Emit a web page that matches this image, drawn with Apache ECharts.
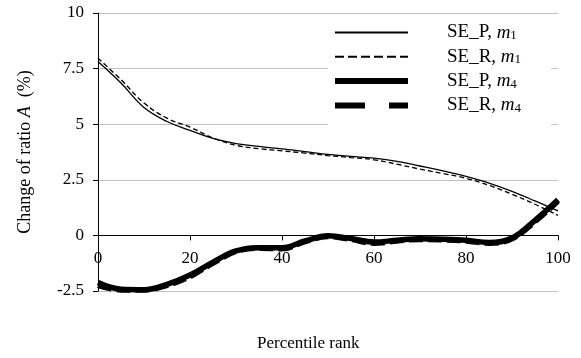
<!DOCTYPE html>
<html>
<head>
<meta charset="utf-8">
<script src="https://cdn.jsdelivr.net/npm/echarts@6/dist/echarts.min.js"></script>
<style>
  html, body { margin: 0; padding: 0; background: #fff; }
  #chart { width: 581px; height: 358px; }
</style>
</head>
<body>
<div id="chart"></div>
<script>
const percentiles = [0, 5, 10, 15, 20, 25, 30, 35, 40, 45, 50, 55, 60, 65, 70, 75, 80, 85, 90, 95, 100]

const seP_m1 = [7.82, 6.85, 5.75, 5.12, 4.72, 4.36, 4.13, 4.0, 3.89, 3.77, 3.64, 3.55, 3.47, 3.33, 3.12, 2.9, 2.65, 2.35, 1.98, 1.55, 1.1]
const seR_m1 = [7.97, 7.0, 5.95, 5.27, 4.87, 4.38, 4.05, 3.9, 3.8, 3.7, 3.59, 3.5, 3.4, 3.2, 2.98, 2.78, 2.57, 2.25, 1.85, 1.4, 0.9]
const seP_m4 = [-2.12, -2.42, -2.44, -2.2, -1.78, -1.2, -0.7, -0.55, -0.55, -0.25, -0.02, -0.14, -0.3, -0.22, -0.15, -0.17, -0.22, -0.32, -0.12, 0.68, 1.6]
const seR_m4 = [-2.25, -2.45, -2.45, -2.25, -1.85, -1.25, -0.72, -0.58, -0.6, -0.28, -0.05, -0.18, -0.35, -0.25, -0.18, -0.2, -0.25, -0.35, -0.15, 0.62, 1.55]

const seriesNames = ['SE_P, m1', 'SE_R, m1', 'SE_P, m4', 'SE_R, m4']
const legendLabels = ['SE_P, {i|m}{s|1}', 'SE_R, {i|m}{s|1}', 'SE_P, {i|m}{s|4}', 'SE_R, {i|m}{s|4}']

const FONT = '"Liberation Serif", "Times New Roman", serif'

// plot box: y from 13 (10) to 291 (-2.5); x axis sits on the zero line
const GRID_TOP = 13
const GRID_BOTTOM = 67
const ZERO_OFFSET = -(358 - GRID_BOTTOM - GRID_TOP) * 2.5 / 12.5

function pairs(values) {
  return percentiles.map((p, i) => [p, values[i]])
}

const chart = echarts.init(document.getElementById('chart'))

const lineSeries = (name, values, width, type) => ({
  name: name,
  type: 'line',
  data: pairs(values),
  smooth: 0.4,
  symbol: 'none',
  lineStyle: { color: '#000', width: width, type: type },
  itemStyle: { color: '#000' }
})

const legendItem = (name, width, type) => ({
  name: name,
  itemStyle: { opacity: 0 },
  lineStyle: { width: width, type: type, color: '#000' }
})

const option = {
  animation: false,
  backgroundColor: '#fff',
  textStyle: { fontFamily: FONT, color: '#000' },
  grid: { left: 98, right: 23, top: GRID_TOP, bottom: GRID_BOTTOM },
  title: {
    text: 'Percentile rank',
    left: 257,
    top: 335,
    padding: 0,
    textStyle: { fontFamily: FONT, fontSize: 17, fontWeight: 'normal', color: '#000' }
  },
  legend: {
    orient: 'vertical',
    left: 328,
    top: 17,
    padding: [6, 30, 12, 4],
    backgroundColor: '#fff',
    itemWidth: 73,
    itemHeight: 14,
    itemGap: 5.3,
    data: [
      legendItem(seriesNames[0], 2, 'solid'),
      legendItem(seriesNames[1], 2, [9, 4]),
      legendItem(seriesNames[2], 6, 'solid'),
      legendItem(seriesNames[3], 6, [30, 24])
    ],
    formatter: name => '{g|}' + legendLabels[seriesNames.indexOf(name)],
    textStyle: {
      fontFamily: FONT,
      fontSize: 19,
      color: '#000',
      rich: {
        g: { width: 34 },
        i: { fontFamily: FONT, fontSize: 19, fontStyle: 'italic', color: '#000' },
        s: { fontFamily: FONT, fontSize: 13, color: '#000', verticalAlign: 'bottom', padding: [6, 0, 0, 0] }
      }
    }
  },
  xAxis: {
    type: 'value',
    min: 0,
    max: 100,
    interval: 20,
    offset: ZERO_OFFSET,
    axisLine: { onZero: false, lineStyle: { color: '#000', width: 1 } },
    axisTick: { show: true, inside: false, length: 5, lineStyle: { color: '#000' } },
    axisLabel: { fontFamily: FONT, fontSize: 17, color: '#000', margin: 15 },
    splitLine: { show: false }
  },
  yAxis: {
    type: 'value',
    min: -2.5,
    max: 10,
    interval: 2.5,
    name: 'Change of ratio {i|A}  (%)',
    nameLocation: 'middle',
    nameRotate: 90,
    nameGap: 64,
    nameTextStyle: {
      fontFamily: FONT,
      fontSize: 18,
      color: '#000',
      rich: { i: { fontFamily: FONT, fontSize: 18, fontStyle: 'italic', color: '#000' } }
    },
    axisLine: { show: true, lineStyle: { color: '#000', width: 1 } },
    axisTick: { show: true, inside: false, length: 5, lineStyle: { color: '#000' } },
    axisLabel: { fontFamily: FONT, fontSize: 17, color: '#000', margin: 14 },
    splitLine: { show: true, lineStyle: { color: '#c0c0c0', width: 1 } }
  },
  series: [
    lineSeries(seriesNames[0], seP_m1, 1.3, 'solid'),
    lineSeries(seriesNames[1], seR_m1, 1.3, [5, 3]),
    lineSeries(seriesNames[2], seP_m4, 5.5, 'solid'),
    lineSeries(seriesNames[3], seR_m4, 5.5, [14, 5])
  ]
}

chart.setOption(option)
</script>
</body>
</html>
